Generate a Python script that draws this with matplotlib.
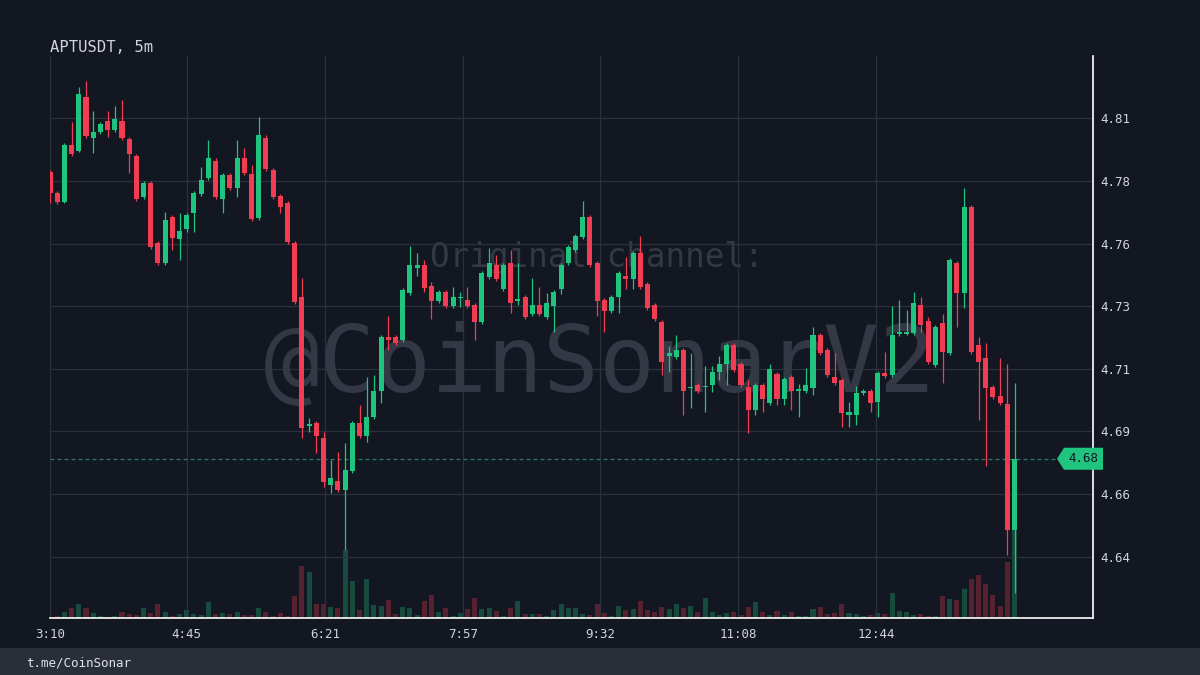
import matplotlib
matplotlib.use("Agg")
import matplotlib.pyplot as plt
import matplotlib.transforms as mtransforms
from matplotlib.patches import Polygon, Rectangle
import numpy as np

# APTUSDT 5m candles, 3:10 -> 14:20
symbol = "APTUSDT, 5m"
footer_text = "t.me/CoinSonar"

opens = [4.7868, 4.7786, 4.7751, 4.7972, 4.7949, 4.8159, 4.7999, 4.8023, 4.8066, 4.8031,
         4.8066, 4.7996, 4.7930, 4.7771, 4.7825, 4.7592, 4.7515, 4.7693, 4.7608, 4.7647,
         4.7709, 4.7782, 4.7844, 4.7910, 4.7763, 4.7856, 4.7806, 4.7922, 4.7860, 4.7689,
         4.7999, 4.7875, 4.7775, 4.7747, 4.7592, 4.7383, 4.6884, 4.6894, 4.6836, 4.6653,
         4.6669, 4.6634, 4.6708, 4.6894, 4.6843, 4.6917, 4.7018, 4.7227, 4.7227, 4.7216,
         4.7398, 4.7495, 4.7507, 4.7425, 4.7367, 4.7402, 4.7348, 4.7379, 4.7371, 4.7352,
         4.7286, 4.7460, 4.7507, 4.7414, 4.7515, 4.7369, 4.7383, 4.7317, 4.7352, 4.7305,
         4.7348, 4.7414, 4.7515, 4.7565, 4.7615, 4.7693, 4.7515, 4.7371, 4.7328, 4.7383,
         4.7464, 4.7453, 4.7553, 4.7433, 4.7352, 4.7286, 4.7154, 4.7150, 4.7177, 4.7028,
         4.7041, 4.7033, 4.7041, 4.7092, 4.7123, 4.7196, 4.7123, 4.7033, 4.6944, 4.7041,
         4.6971, 4.7084, 4.6987, 4.7072, 4.7018, 4.7018, 4.7030, 4.7235, 4.7177, 4.7072,
         4.7061, 4.6925, 4.6925, 4.7010, 4.7018, 4.6975, 4.7088, 4.7080, 4.7239, 4.7241,
         4.7243, 4.7352, 4.7290, 4.7119, 4.7282, 4.7165, 4.7515, 4.7398, 4.7732, 4.7197,
         4.7146, 4.7033, 4.6999, 4.6968, 4.6479]
highs = [4.7875, 4.7794, 4.7980, 4.8062, 4.8197, 4.8221, 4.8104, 4.8062, 4.8104, 4.8124,
         4.8147, 4.8003, 4.7937, 4.7833, 4.7833, 4.7600, 4.7712, 4.7701, 4.7709, 4.7709,
         4.7794, 4.7887, 4.7992, 4.7922, 4.7864, 4.7864, 4.7992, 4.7961, 4.7895, 4.8081,
         4.8011, 4.7883, 4.7782, 4.7755, 4.7600, 4.7456, 4.6913, 4.6901, 4.6859, 4.6750,
         4.6781, 4.6816, 4.6901, 4.6964, 4.7072, 4.7080, 4.7235, 4.7309, 4.7235, 4.7418,
         4.7580, 4.7553, 4.7526, 4.7441, 4.7410, 4.7410, 4.7421, 4.7402, 4.7421, 4.7359,
         4.7484, 4.7573, 4.7546, 4.7515, 4.7565, 4.7515, 4.7390, 4.7456, 4.7421, 4.7398,
         4.7410, 4.7515, 4.7584, 4.7627, 4.7755, 4.7701, 4.7522, 4.7379, 4.7390, 4.7484,
         4.7538, 4.7561, 4.7619, 4.7441, 4.7359, 4.7293, 4.7193, 4.7235, 4.7185, 4.7165,
         4.7049, 4.7115, 4.7115, 4.7154, 4.7204, 4.7204, 4.7131, 4.7061, 4.7049, 4.7049,
         4.7123, 4.7092, 4.7072, 4.7080, 4.7045, 4.7107, 4.7266, 4.7243, 4.7185, 4.7165,
         4.7068, 4.6975, 4.7037, 4.7026, 4.7026, 4.7096, 4.7169, 4.7348, 4.7371, 4.7332,
         4.7402, 4.7383, 4.7305, 4.7274, 4.7317, 4.7534, 4.7522, 4.7806, 4.7740, 4.7227,
         4.7204, 4.7041, 4.7146, 4.7123, 4.7049]
lows = [4.7747, 4.7743, 4.7747, 4.7930, 4.7945, 4.7999, 4.7941, 4.8015, 4.8003, 4.8023,
        4.7992, 4.7864, 4.7755, 4.7763, 4.7569, 4.7507, 4.7507, 4.7565, 4.7526, 4.7635,
        4.7635, 4.7775, 4.7837, 4.7763, 4.7709, 4.7798, 4.7771, 4.7856, 4.7678, 4.7681,
        4.7872, 4.7763, 4.7709, 4.7588, 4.7356, 4.6836, 4.6859, 4.6777, 4.6645, 4.6622,
        4.6626, 4.6401, 4.6700, 4.6836, 4.6820, 4.6909, 4.6971, 4.7177, 4.7196, 4.7208,
        4.7391, 4.7464, 4.7402, 4.7297, 4.7359, 4.7340, 4.7340, 4.7344, 4.7340, 4.7216,
        4.7278, 4.7453, 4.7445, 4.7406, 4.7321, 4.7352, 4.7297, 4.7309, 4.7309, 4.7297,
        4.7247, 4.7394, 4.7507, 4.7557, 4.7608, 4.7499, 4.7309, 4.7247, 4.7321, 4.7321,
        4.7414, 4.7414, 4.7414, 4.7332, 4.7290, 4.7080, 4.7092, 4.7142, 4.6925, 4.6952,
        4.7010, 4.6936, 4.7014, 4.7061, 4.7041, 4.7092, 4.7033, 4.6855, 4.6925, 4.6936,
        4.6964, 4.6964, 4.6964, 4.6944, 4.6917, 4.7010, 4.7002, 4.7158, 4.7072, 4.7041,
        4.6878, 4.6878, 4.6886, 4.7002, 4.6936, 4.6917, 4.7068, 4.7072, 4.7231, 4.7235,
        4.7235, 4.7247, 4.7123, 4.7111, 4.7049, 4.7158, 4.7266, 4.7340, 4.7161, 4.6905,
        4.6727, 4.6987, 4.6964, 4.6382, 4.6234]
closes = [4.7786, 4.7751, 4.7972, 4.7937, 4.8170, 4.8007, 4.8023, 4.8054, 4.8031, 4.8073,
          4.7999, 4.7937, 4.7763, 4.7825, 4.7577, 4.7515, 4.7681, 4.7612, 4.7639, 4.7701,
          4.7786, 4.7837, 4.7922, 4.7771, 4.7856, 4.7806, 4.7922, 4.7864, 4.7685, 4.8011,
          4.7879, 4.7771, 4.7732, 4.7596, 4.7363, 4.6874, 4.6888, 4.6843, 4.6665, 4.6680,
          4.6634, 4.6711, 4.6894, 4.6843, 4.6917, 4.7018, 4.7227, 4.7216, 4.7204, 4.7410,
          4.7507, 4.7507, 4.7418, 4.7367, 4.7402, 4.7348, 4.7383, 4.7383, 4.7348, 4.7286,
          4.7476, 4.7515, 4.7453, 4.7507, 4.7359, 4.7373, 4.7305, 4.7352, 4.7317, 4.7359,
          4.7402, 4.7507, 4.7577, 4.7619, 4.7693, 4.7507, 4.7367, 4.7328, 4.7383, 4.7476,
          4.7453, 4.7553, 4.7421, 4.7340, 4.7297, 4.7131, 4.7165, 4.7177, 4.7018, 4.7035,
          4.7018, 4.7037, 4.7092, 4.7123, 4.7196, 4.7099, 4.7041, 4.6944, 4.7041, 4.6987,
          4.7103, 4.6987, 4.7064, 4.7018, 4.7026, 4.7041, 4.7235, 4.7165, 4.7080, 4.7049,
          4.6933, 4.6936, 4.7010, 4.7018, 4.6971, 4.7088, 4.7076, 4.7235, 4.7247, 4.7245,
          4.7359, 4.7274, 4.7131, 4.7266, 4.7169, 4.7526, 4.7398, 4.7732, 4.7169, 4.7131,
          4.7030, 4.6995, 4.6971, 4.6479, 4.6755]
volumes = [3, 7, 17, 30, 42, 30, 15, 7, 3, 7,
           19, 13, 9, 31, 15, 42, 19, 5, 13, 25,
           13, 8, 47, 13, 16, 13, 19, 8, 8, 31,
           19, 5, 15, 5, 67, 155, 137, 43, 43, 33,
           31, 203, 110, 25, 117, 39, 35, 53, 13, 32,
           30, 10, 52, 70, 17, 31, 6, 15, 27, 59,
           26, 29, 20, 5, 29, 50, 12, 13, 13, 7,
           25, 43, 31, 31, 12, 10, 43, 15, 5, 37,
           23, 27, 51, 25, 17, 33, 27, 41, 30, 37,
           17, 61, 18, 8, 14, 17, 8, 33, 47, 17,
           10, 22, 10, 18, 5, 7, 27, 33, 13, 15,
           41, 15, 13, 5, 10, 15, 13, 75, 22, 18,
           10, 11, 5, 7, 65, 58, 53, 86, 117, 130,
           103, 70, 35, 167, 264]

# x axis: candle index (5 min each) from 3:10
time_ticks = [0, 19, 38.2, 57.4, 76.4, 95.6, 114.8]
time_labels = ["3:10", "4:45", "6:21", "7:57", "9:32", "11:08", "12:44"]
price_ticks = [4.6375, 4.6618, 4.6861, 4.7104, 4.7347, 4.7590, 4.7833, 4.8076]

bg = '#131722'
footer_bg = '#2a2e39'
grid_c = '#2c303b'
text_c = '#d1d4dc'
wm_c = '#343844'
up_c = '#1fc47f'
down_c = '#f23c51'

plt.rcParams['font.family'] = 'DejaVu Sans Mono'

o = np.array(opens)
h = np.array(highs)
l = np.array(lows)
c = np.array(closes)
x = np.arange(len(o))
colors = [up_c if cc >= oo else down_c for oo, cc in zip(o, c)]

ymin, ymax = 4.6137, 4.8318
px = (ymax - ymin) / 562.0   # one pixel in price units

fig = plt.figure(figsize=(12, 6.75), dpi=100, facecolor=bg)
ax = fig.add_axes([50/1200, 57/675, 1043/1200, 562/675])
ax2 = ax.twinx()
ax.set_zorder(ax2.get_zorder() + 1)
ax.patch.set_visible(False)

# volume (back)
ax2.bar(x, volumes, width=0.7, color=colors, alpha=0.3, linewidth=0)
ax2.set_ylim(0, 1686)
ax2.set_yticks([])
for s in ax2.spines.values():
    s.set_visible(False)

# candles
body_lo = np.minimum(o, c)
body_h = np.maximum(np.abs(c - o), 1.3 * px)
ax.vlines(x, l, h, colors=colors, lw=0.9, zorder=2)
ax.bar(x, body_h, bottom=body_lo, width=0.7, color=colors, linewidth=0, zorder=3)

ax.set_xlim(0, 144.9)
ax.set_ylim(ymin, ymax)
ax2.set_xlim(0, 144.9)

ax.yaxis.tick_right()
ax.set_yticks(price_ticks)
ax.set_yticklabels([f"{v:.2f}" for v in price_ticks])
ax.set_xticks(time_ticks)
ax.set_xticklabels(time_labels)
ax.tick_params(axis='both', length=0, colors=text_c, labelsize=9)
ax.tick_params(axis='x', pad=7)
ax.tick_params(axis='y', pad=5.5)
ax.grid(True, color=grid_c, lw=0.9)
ax.set_axisbelow(True)

for side in ['left', 'top']:
    ax.spines[side].set_visible(False)
for side in ['right', 'bottom']:
    ax.spines[side].set_color('white')
    ax.spines[side].set_linewidth(1.2)

# watermark
ax.text(0.5273, 0.4021, '@CoinSonarV2', transform=ax.transAxes, ha='center',
        va='baseline', fontsize=67, color=wm_c, zorder=1)
ax.text(0.524, 0.6251, 'Original channel:', transform=ax.transAxes, ha='center',
        va='baseline', fontsize=23.5, color=wm_c, zorder=1)

# last price line + tag
last = closes[-1]
ax.axhline(last, xmin=0, xmax=0.9655, color='#2a7a6a', lw=0.9,
           linestyle=(0, (3.2, 2.4)), zorder=1.5)
tr = mtransforms.blended_transform_factory(ax.transAxes, ax.transData)
hh = 11 * px
tag = Polygon([(0.9655, last), (0.9722, last + hh), (1.0096, last + hh),
               (1.0096, last - hh), (0.9722, last - hh)], closed=True,
              transform=tr, facecolor=up_c, edgecolor='none', clip_on=False, zorder=6)
ax.add_patch(tag)
ax.text(0.991, last, f"{last:.2f}", transform=tr, ha='center', va='center',
        fontsize=9, color=bg, zorder=7, clip_on=False)

# title and footer
fig.text(50/1200, 0.9225, symbol, fontsize=11.2, color=text_c, va='baseline')
fig.add_artist(Rectangle((0, 0), 1, 27/675, transform=fig.transFigure,
                         facecolor=footer_bg, edgecolor='none'))
fig.text(26/1200, 12/675, footer_text, fontsize=9, color='#e0e3eb', va='center')

fig.savefig('out.png', dpi=100, facecolor=bg)
